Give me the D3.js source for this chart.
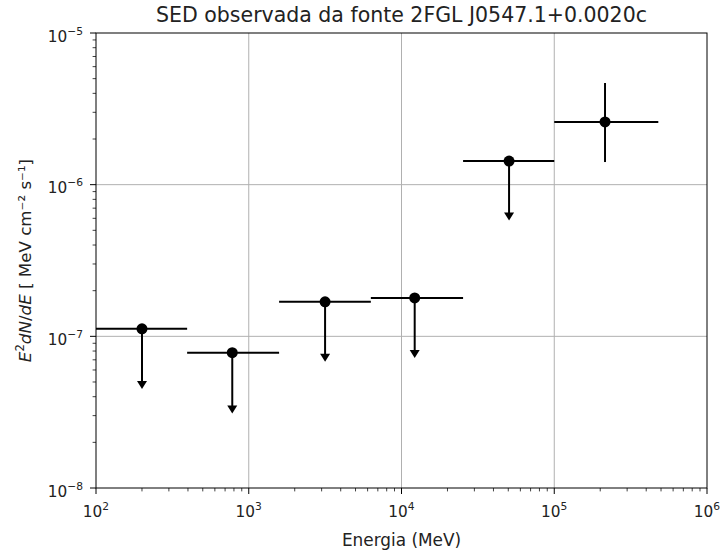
<!DOCTYPE html>
<html>
<head>
<meta charset="utf-8">
<script src="https://cdn.jsdelivr.net/npm/d3@7"></script>
<style>
  body { margin: 0; background: #fff; }
  text { font-family: "DejaVu Sans", sans-serif; fill: #222; }
</style>
</head>
<body>
<svg width="721" height="552"></svg>
<script>
const svg = d3.select('svg');

// SED points (energy in MeV, flux in MeV cm^-2 s^-1)
const energy    = [200, 780, 3160, 12200, 50600, 215000];
const energyLow = [100, 395, 1580, 6300, 25300, 100000];
const energyHigh= [395, 1580, 6300, 25300, 100000, 480000];
const flux      = [1.12e-7, 7.8e-8, 1.69e-7, 1.79e-7, 1.43e-6, 2.59e-6];
const fluxLow   = [4.5e-8, 3.1e-8, 6.8e-8, 7.2e-8, 5.8e-7, 1.41e-6];
const fluxHigh  = [1.12e-7, 7.8e-8, 1.69e-7, 1.79e-7, 1.43e-6, 4.68e-6];
const upperLimit = [true, true, true, true, true, false];

const xTicks = [1e2, 1e3, 1e4, 1e5, 1e6];
const yTicks = [1e-8, 1e-7, 1e-6, 1e-5];

const mLeft = 96, mRight = 707, mTop = 33, mBottom = 488;

const x = d3.scaleLog().domain([1e2, 1e6]).range([mLeft, mRight]);
const y = d3.scaleLog().domain([1e-8, 1e-5]).range([mBottom, mTop]);

const data = energy.map((e, i) => ({
  e, lo: energyLow[i], hi: energyHigh[i],
  f: flux[i], fl: fluxLow[i], fh: fluxHigh[i], ul: upperLimit[i]
}));

// grid
svg.append('g').selectAll('line').data(xTicks.slice(1, -1)).enter().append('line')
  .attr('x1', d => x(d)).attr('x2', d => x(d)).attr('y1', mTop).attr('y2', mBottom)
  .attr('stroke', '#b0b0b0').attr('stroke-width', 1);
svg.append('g').selectAll('line').data(yTicks.slice(1, -1)).enter().append('line')
  .attr('y1', d => y(d)).attr('y2', d => y(d)).attr('x1', mLeft).attr('x2', mRight)
  .attr('stroke', '#b0b0b0').attr('stroke-width', 1);

// minor ticks
const xMinor = [];
for (let p = 2; p < 6; p++) for (let k = 2; k < 10; k++) xMinor.push(k * Math.pow(10, p));
const yMinor = [];
for (let p = -8; p < -5; p++) for (let k = 2; k < 10; k++) yMinor.push(k * Math.pow(10, p));

svg.append('g').selectAll('line').data(xMinor).enter().append('line')
  .attr('x1', d => x(d)).attr('x2', d => x(d)).attr('y1', mBottom).attr('y2', mBottom + 3.4)
  .attr('stroke', '#000').attr('stroke-width', 0.75);
svg.append('g').selectAll('line').data(yMinor).enter().append('line')
  .attr('y1', d => y(d)).attr('y2', d => y(d)).attr('x1', mLeft).attr('x2', mLeft - 3.4)
  .attr('stroke', '#000').attr('stroke-width', 0.75);

// major ticks
svg.append('g').selectAll('line').data(xTicks).enter().append('line')
  .attr('x1', d => x(d)).attr('x2', d => x(d)).attr('y1', mBottom).attr('y2', mBottom + 6)
  .attr('stroke', '#000').attr('stroke-width', 1);
svg.append('g').selectAll('line').data(yTicks).enter().append('line')
  .attr('y1', d => y(d)).attr('y2', d => y(d)).attr('x1', mLeft).attr('x2', mLeft - 6)
  .attr('stroke', '#000').attr('stroke-width', 1);

// tick labels
const xl = svg.append('g').selectAll('text').data(xTicks).enter().append('text')
  .attr('x', d => x(d)).attr('y', mBottom + 29).attr('text-anchor', 'middle')
  .attr('font-size', 15.3);
xl.append('tspan').text('10');
xl.append('tspan').attr('dy', -7).attr('font-size', 10.7).text(d => Math.round(Math.log10(d)));

const yl = svg.append('g').selectAll('text').data(yTicks).enter().append('text')
  .attr('x', mLeft - 13).attr('y', d => y(d) + 8.5).attr('text-anchor', 'end')
  .attr('font-size', 15.3);
yl.append('tspan').text('10');
yl.append('tspan').attr('dy', -7).attr('font-size', 10.7).text(d => '\u2212' + Math.round(-Math.log10(d)));

// frame
svg.append('rect').attr('x', mLeft).attr('y', mTop).attr('width', mRight - mLeft).attr('height', mBottom - mTop)
  .attr('fill', 'none').attr('stroke', '#000').attr('stroke-width', 1);

// error bars
const g = svg.append('g');
g.selectAll('.xerr').data(data).enter().append('line')
  .attr('x1', d => x(d.lo)).attr('x2', d => x(d.hi))
  .attr('y1', d => y(d.f)).attr('y2', d => y(d.f))
  .attr('stroke', '#000').attr('stroke-width', 2);
g.selectAll('.yerr').data(data).enter().append('line')
  .attr('x1', d => x(d.e)).attr('x2', d => x(d.e))
  .attr('y1', d => y(d.fh)).attr('y2', d => y(d.fl) - (d.ul ? 4 : 0))
  .attr('stroke', '#000').attr('stroke-width', 2);
g.selectAll('.arrow').data(data.filter(d => d.ul)).enter().append('path')
  .attr('d', d => {
    const cx = x(d.e), cy = y(d.fl);
    return `M${cx - 5},${cy - 8}L${cx + 5},${cy - 8}L${cx},${cy}Z`;
  })
  .attr('fill', '#000');
g.selectAll('circle').data(data).enter().append('circle')
  .attr('cx', d => x(d.e)).attr('cy', d => y(d.f)).attr('r', 5.5).attr('fill', '#000');

// labels
svg.append('text').attr('x', (mLeft + mRight) / 2).attr('y', 22).attr('text-anchor', 'middle')
  .attr('font-size', 20.5).text('SED observada da fonte 2FGL J0547.1+0.0020c');
svg.append('text').attr('x', (mLeft + mRight) / 2).attr('y', 546).attr('text-anchor', 'middle')
  .attr('font-size', 16.9).text('Energia (MeV)');

const ylab = svg.append('text')
  .attr('transform', `translate(31,${(mTop + mBottom) / 2}) rotate(-90)`)
  .attr('text-anchor', 'middle').attr('font-size', 16.7);
ylab.append('tspan').attr('font-style', 'italic').text('E');
ylab.append('tspan').attr('dy', -7).attr('font-size', 11.7).text('2');
ylab.append('tspan').attr('dy', 7).attr('font-style', 'italic').text('dN');
ylab.append('tspan').text('/');
ylab.append('tspan').attr('font-style', 'italic').text('dE');
ylab.append('tspan').text(' [ MeV cm\u207B\u00B2 s\u207B\u00B9]');
</script>
</body>
</html>
